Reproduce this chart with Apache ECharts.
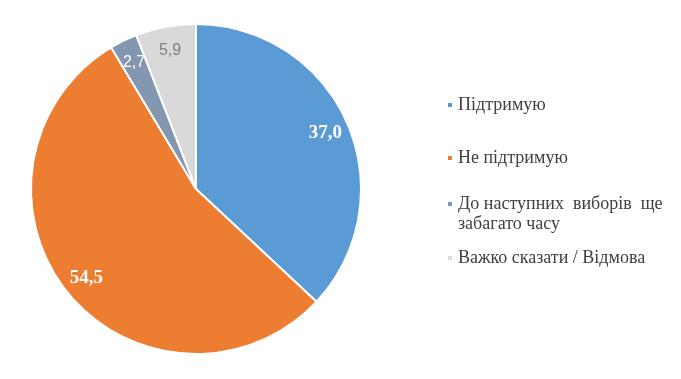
<!DOCTYPE html>
<html><head><meta charset="utf-8">
<script src="https://cdn.jsdelivr.net/npm/echarts@6/dist/echarts.min.js"></script>
<style>html,body{margin:0;padding:0;background:#fff}#c{width:681px;height:379px}</style>
</head><body><div id="c"></div>
<script>
var categories = ['Підтримую', 'Не підтримую', 'До наступних виборів ще забагато часу', 'Важко сказати / Відмова'];
var values = [37.0, 54.5, 2.7, 5.9];
var legendLabels = ['Підтримую', 'Не підтримую', '\nДо наступних  виборів  ще\nзабагато часу', 'Важко сказати / Відмова'];
var colors = ['#5B9BD5', '#ED7D31', '#8497B0', '#D9D9D9'];

var labelStyles = [
  {color: '#fff', fontFamily: 'Liberation Serif', fontWeight: 'bold', fontSize: 19},
  {color: '#fff', fontFamily: 'Liberation Serif', fontWeight: 'bold', fontSize: 19},
  {color: '#fff', fontFamily: 'Liberation Sans', fontSize: 16},
  {color: '#808080', fontFamily: 'Liberation Sans', fontSize: 16}
];
var fmt = function (v) { return v.toFixed(1).replace('.', ','); };

var chart = echarts.init(document.getElementById('c'), null, {renderer: 'canvas'});
var center = [196, 189];
var legendTops = [90, 143, 169, 243];
var legends = categories.map(function (name, i) {
  return {
    data: [name], left: 441, top: legendTops[i], orient: 'vertical',
    icon: 'rect', itemWidth: 6, itemHeight: 6, itemGap: 4, selectedMode: false,
    formatter: function () { return legendLabels[i]; },
    textStyle: {fontFamily: 'Liberation Serif', fontSize: 18, color: '#404040', lineHeight: 20}
  };
});
var option = {
  animation: false,
  color: colors,
  legend: legends,
  series: [
    {
      type: 'pie', center: center, radius: [0, 165], startAngle: 90, clockwise: true,
      silent: true,
      itemStyle: {borderColor: '#fff', borderWidth: 2},
      label: {show: false}, labelLine: {show: false},
      data: categories.map(function (n, i) { return {name: n, value: values[i]}; })
    },
    {
      type: 'pie', center: center, radius: [111, 165], startAngle: 90, clockwise: true,
      silent: true, legendHoverLink: false,
      itemStyle: {color: 'rgba(0,0,0,0)', borderWidth: 0},
      labelLine: {show: false},
      data: categories.map(function (n, i) {
        return {name: n, value: values[i],
          label: Object.assign({show: true, position: 'inside', formatter: fmt(values[i])}, labelStyles[i])};
      })
    }
  ]
};
chart.setOption(option);
</script></body></html>
